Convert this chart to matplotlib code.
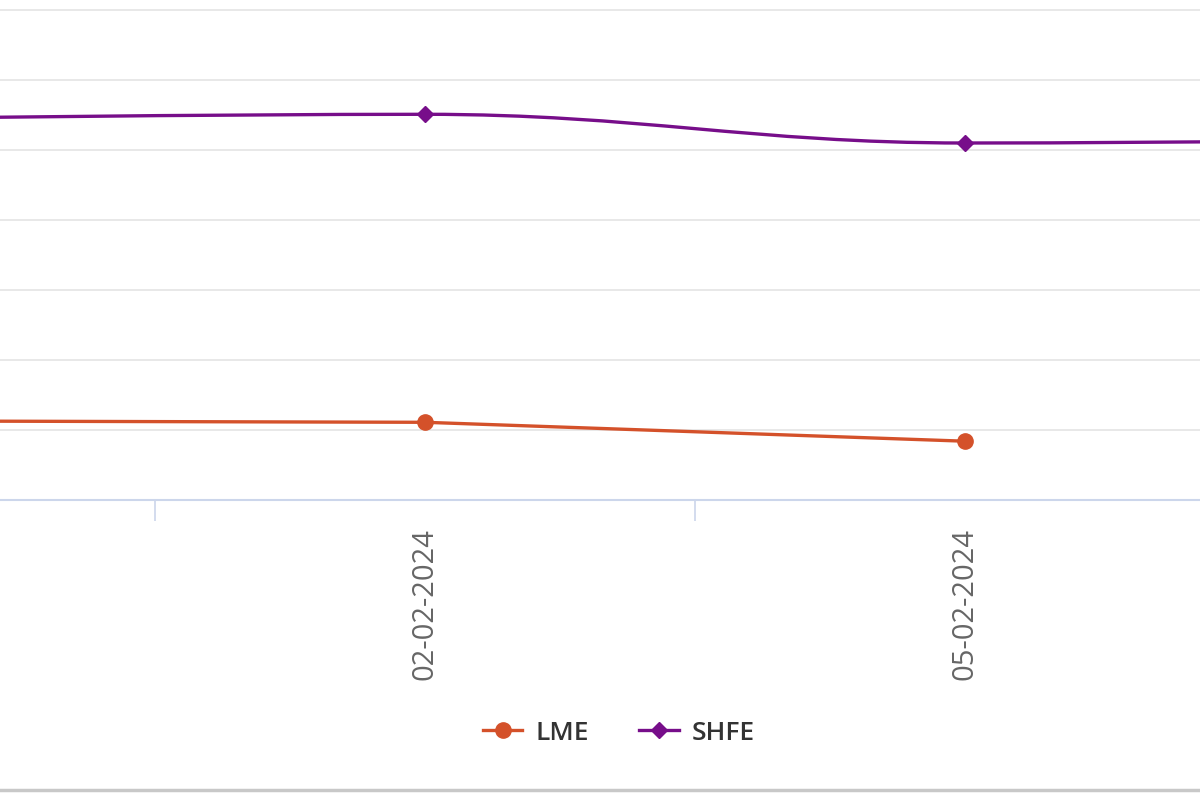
import numpy as np
import matplotlib
matplotlib.use("Agg")
import matplotlib.pyplot as plt
from matplotlib.path import Path
from matplotlib.patches import PathPatch
from matplotlib.lines import Line2D

plt.rcParams['font.family'] = ['Open Sans', 'DejaVu Sans']

dates = ["01-02-2024", "02-02-2024", "05-02-2024", "06-02-2024"]
lme = [1130, 1110, 840, np.nan]
shfe = [5450, 5510, 5100, 5160]

LME_COL = '#d4512a'
SHFE_COL = '#770e8a'


def spline_path(xs, ys, smoothing=1.5):
    # highcharts style spline: bezier control points around each point
    n = len(xs)
    left = [None] * n
    right = [None] * n
    for i in range(1, n - 1):
        denom = smoothing + 1
        lx = (smoothing * xs[i] + xs[i - 1]) / denom
        ly = (smoothing * ys[i] + ys[i - 1]) / denom
        rx = (smoothing * xs[i] + xs[i + 1]) / denom
        ry = (smoothing * ys[i] + ys[i + 1]) / denom
        if rx != lx:
            corr = (ry - ly) * (rx - xs[i]) / (rx - lx) + ys[i] - ry
            ly += corr
            ry += corr
        if ly > ys[i - 1] and ly > ys[i]:
            ly = max(ys[i - 1], ys[i]); ry = 2 * ys[i] - ly
        elif ly < ys[i - 1] and ly < ys[i]:
            ly = min(ys[i - 1], ys[i]); ry = 2 * ys[i] - ly
        if ry > ys[i + 1] and ry > ys[i]:
            ry = max(ys[i + 1], ys[i]); ly = 2 * ys[i] - ry
        elif ry < ys[i + 1] and ry < ys[i]:
            ry = min(ys[i + 1], ys[i]); ly = 2 * ys[i] - ry
        left[i] = (lx, ly)
        right[i] = (rx, ry)
    verts = [(xs[0], ys[0])]
    codes = [Path.MOVETO]
    for i in range(1, n):
        c1 = right[i - 1] or (xs[i - 1], ys[i - 1])
        c2 = left[i] or (xs[i], ys[i])
        verts += [c1, c2, (xs[i], ys[i])]
        codes += [Path.CURVE4] * 3
    return Path(verts, codes)


fig = plt.figure(figsize=(12, 8), dpi=100)
ax = fig.add_axes([0, 0.375, 1, 0.625])

x = np.arange(len(dates))

for g in range(1000, 8000, 1000):
    ax.axhline(g, color='#e6e6e6', lw=1.3, zorder=0)

ax.plot(x, lme, color=LME_COL, lw=2.4, marker='o', markersize=11,
        solid_capstyle='round', zorder=3)

ax.add_patch(PathPatch(spline_path(list(x), shfe), facecolor='none',
                       edgecolor=SHFE_COL, lw=2.4, zorder=3))
ax.plot(x, shfe, ls='none', marker='D', markersize=8.5, color=SHFE_COL, zorder=4)

for s in ['top', 'left', 'right']:
    ax.spines[s].set_visible(False)
ax.spines['bottom'].set_color('#ccd6eb')
ax.spines['bottom'].set_linewidth(1.5)
ax.set_yticks([])

ax.set_xticks(x)
ax.set_xticklabels(dates, rotation=90, color='#666666', fontsize=21)
ax.tick_params(axis='x', which='major', length=0, pad=20)
ax.set_xticks(x[:-1] + 0.5, minor=True)
ax.tick_params(axis='x', which='minor', length=15, width=1.2, color='#ccd6eb')

# view window: only part of the chart is visible
ax.set_xlim(1 - 425 / 540, 1 + 775 / 540)
ax.set_ylim(0, 500 / 70 * 1000)

handles = [
    Line2D([], [], color=LME_COL, lw=2.4, marker='o', markersize=11),
    Line2D([], [], color=SHFE_COL, lw=2.4, marker='D', markersize=8.5),
]
fig.legend(handles, ['LME', 'SHFE'], loc='center', bbox_to_anchor=(619 / 1200, 1 - 733 / 800),
           ncol=2, frameon=False, handlelength=1.5, columnspacing=1.9,
           handletextpad=0.5, labelcolor='#333333', prop={'weight': 'semibold', 'size': 19})

fig.add_artist(Line2D([0, 1], [10 / 800, 10 / 800], color='#c8c8c8', lw=2.5,
                      transform=fig.transFigure))

fig.savefig('out.png', dpi=100, facecolor='white')
